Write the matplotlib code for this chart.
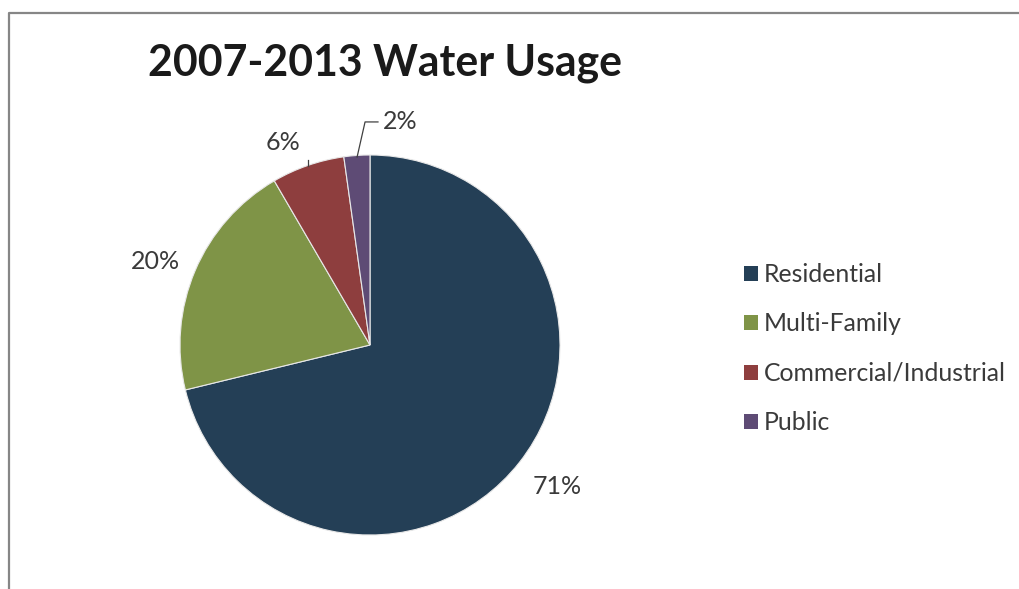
import matplotlib
matplotlib.use('Agg')
import matplotlib.pyplot as plt
from matplotlib.patches import Patch
from matplotlib.lines import Line2D

# data (slice angles), labels shown rounded
categories = ['Residential', 'Multi-Family', 'Commercial/Industrial', 'Public']
shares = [71.2, 20.4, 6.2, 2.2]
colors = ['#243F56', '#7F9447', '#8E3E3E', '#5E4B75']

plt.rcParams['font.family'] = ['Lato', 'DejaVu Sans']

fig = plt.figure(figsize=(10.2, 5.89), dpi=100)

# grey frame, only left and top visible
fx, fy = 9.5 / 1020, 1 - 12.5 / 589
fig.add_artist(Line2D([fx, fx, 1.0], [0.0, fy, fy], transform=fig.transFigure,
                      color='#868686', linewidth=1.6))

ax = fig.add_axes([180 / 1020, 54 / 589, 380 / 1020, 380 / 589])
wedges, texts, autotexts = ax.pie(shares, colors=colors, startangle=90, counterclock=False,
                                  autopct='%.0f%%', pctdistance=1.2,
                                  wedgeprops=dict(edgecolor='#e8e8e8', linewidth=0.8),
                                  textprops=dict(fontsize=18, color='#3a3a3a'))
ax.set_aspect('equal')
ax.set_xlim(-1, 1)
ax.set_ylim(-1, 1)

# nudge labels to where they sit in the original
autotexts[0].set_position((0.985, -0.747))
autotexts[1].set_position((-1.13, 0.437))
autotexts[2].set_position((-0.458, 1.068))
autotexts[3].set_position((0.07, 1.174))
autotexts[3].set_ha('left')

# leader lines
ax.plot([-0.068, -0.026, 0.042], [0.989, 1.174, 1.174], color='#404040', lw=0.9, clip_on=False)
ax.plot([-0.326, -0.326], [0.974, 0.94], color='#404040', lw=0.9, clip_on=False)

fig.text(148 / 1020, 1 - 63 / 589, '2007-2013 Water Usage', fontsize=30.8,
         fontweight='bold', color='#1a1a1a', ha='left', va='center')

handles = [Patch(facecolor=c, edgecolor='none') for c in colors]
fig.legend(handles, categories, loc='upper left', bbox_to_anchor=(744 / 1020, 1 - 263 / 589),
           frameon=False, fontsize=17.8, handlelength=0.55, handleheight=0.55,
           handletextpad=0.26, labelspacing=1.07, borderpad=0, borderaxespad=0,
           labelcolor='#3a3a3a')

fig.savefig('out.png', dpi=100, facecolor='white')
